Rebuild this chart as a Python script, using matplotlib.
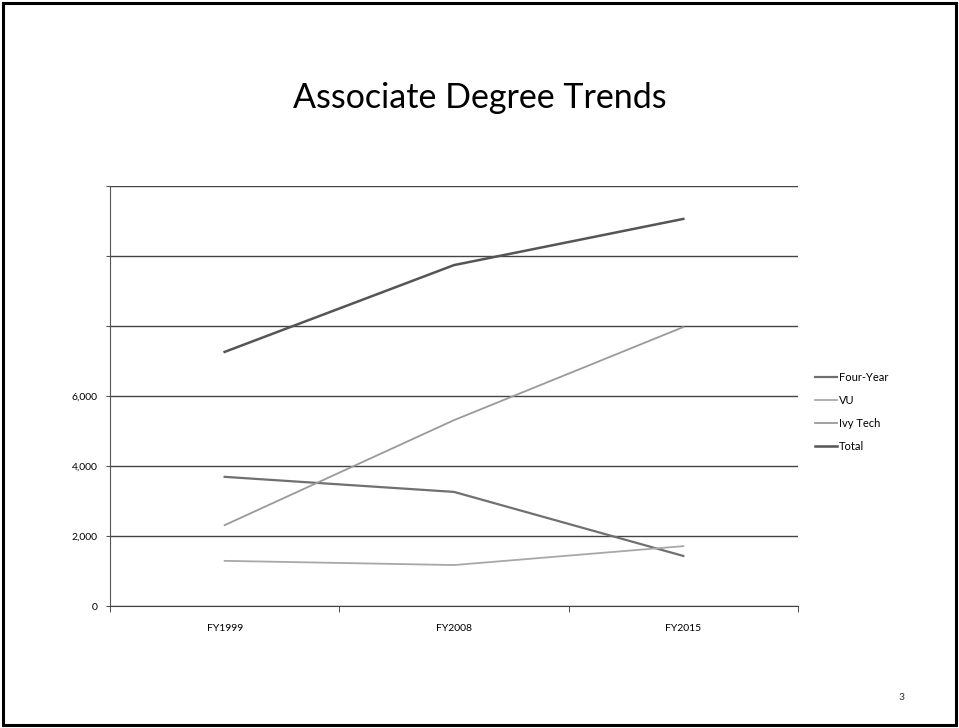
import matplotlib
matplotlib.use("Agg")
import matplotlib.pyplot as plt
from matplotlib.patches import Rectangle

categories = ["FY1999", "FY2008", "FY2015"]
four_year = [3690, 3260, 1430]
vu = [1290, 1170, 1710]
ivy_tech = [2310, 5310, 7970]
total = [7260, 9740, 11060]
y_ticks = [0, 2000, 4000, 6000, 8000, 10000, 12000]
y_tick_labels = ["0", "2,000", "4,000", "6,000", "", "", ""]

plt.rcParams['font.family'] = ['Lato', 'DejaVu Sans']

fig = plt.figure(figsize=(9.59, 7.28), dpi=100)
fig.patch.set_facecolor("white")

# slide border
fig.add_artist(Rectangle((0.003, 0.004), 0.994, 0.992, transform=fig.transFigure,
                         fill=False, edgecolor="black", linewidth=2.2))

fig.text(0.5, 0.866, "Associate Degree Trends", ha="center", va="center",
         fontsize=24.5, color="black")
fig.text(0.94, 0.042, "3", ha="center", va="center", fontsize=7.5, color="#333333")

ax = fig.add_axes([110/959, 1-606/728, 688/959, 420/728])
x = list(range(len(categories)))
series = [
    ("Four-Year", four_year, "#707070", 1.6),
    ("VU", vu, "#a8a8a8", 1.3),
    ("Ivy Tech", ivy_tech, "#9a9a9a", 1.3),
    ("Total", total, "#555555", 1.8),
]
for name, vals, col, lw in series:
    ax.plot(x, vals, color=col, linewidth=lw, label=name)

ax.set_xlim(-0.5, len(categories) - 0.5)
ax.set_ylim(0, 12000)
ax.set_yticks(y_ticks)
ax.set_yticklabels(y_tick_labels, fontsize=7.5)
ax.set_xticks(x)
ax.set_xticklabels(categories, fontsize=7.5)
ax.tick_params(axis="x", length=0, pad=13)
ax.tick_params(axis="y", length=3, color="#555555", pad=6)
ax.set_xticks([-0.5, 0.5, 1.5, 2.5], minor=True)
ax.tick_params(axis="x", which="minor", length=4, color="#333333", direction="out")
ax.grid(axis="y", color="#444444", linewidth=1.0)
ax.set_axisbelow(True)
for s in ["top", "right"]:
    ax.spines[s].set_visible(False)
ax.spines["left"].set_color("#555555")
ax.spines["bottom"].set_color("#444444")

leg = ax.legend(loc="center left", bbox_to_anchor=(1.01, 0.462), frameon=False,
                fontsize=8, handlelength=2.0, handletextpad=0.2, labelspacing=1.1)

fig.savefig("out.png", dpi=100)
